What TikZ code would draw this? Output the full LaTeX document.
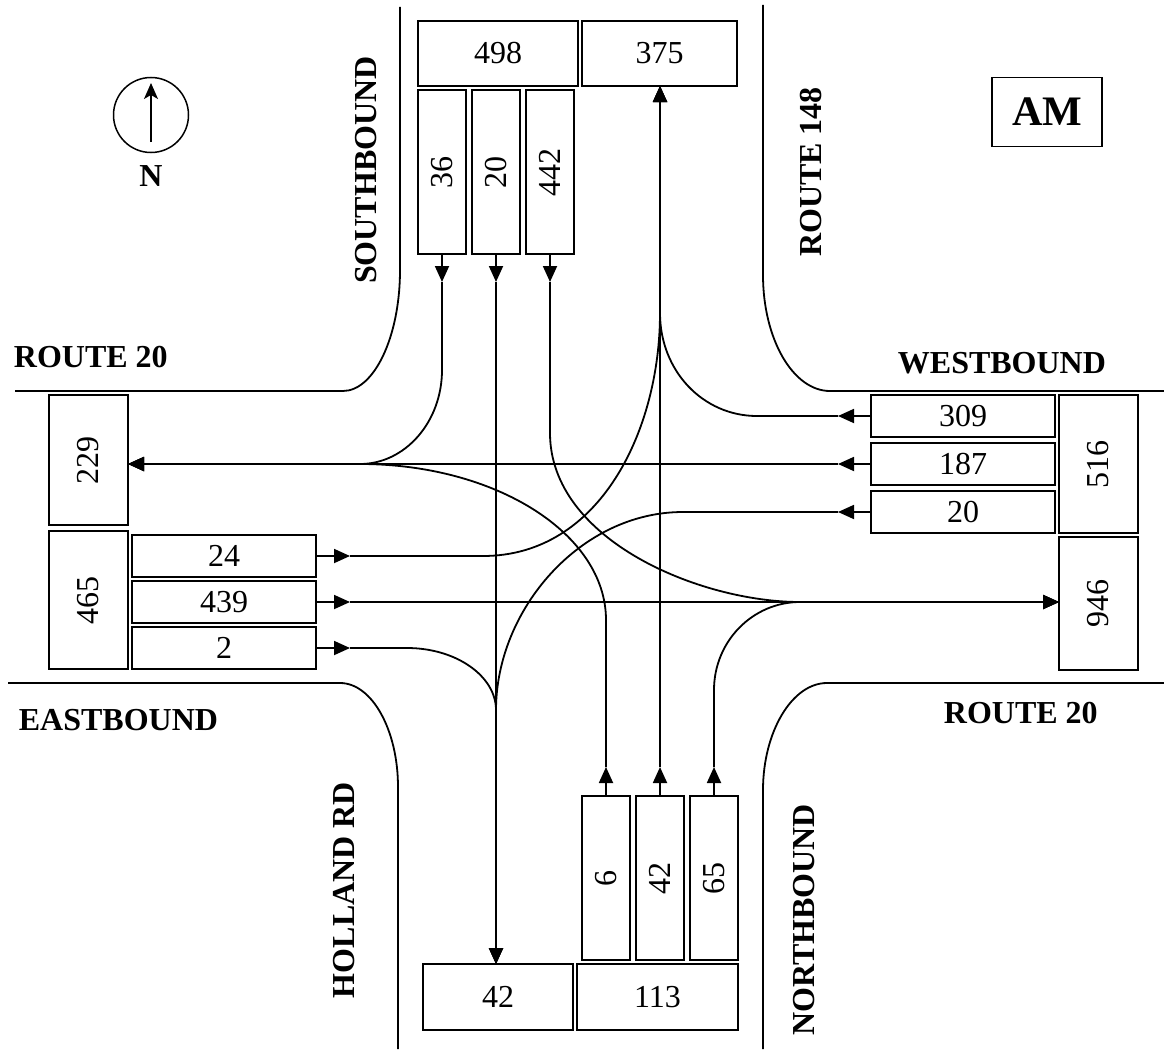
\documentclass[tikz,border=0pt]{standalone}
\usepackage{fontspec}
\setmainfont{Liberation Serif}
\usepackage{tikz}
\usetikzlibrary{positioning,arrows.meta}

\newcommand{\numsize}{\fontsize{32}{38}\selectfont}
\newcommand{\vnum}[1]{\rotatebox{90}{#1}}

\begin{document}
\begin{tikzpicture}[
		x=1pt, y=-1pt,
		line width=1.8pt,
		box/.style={
			draw,
			fill=white,
			inner sep=0pt,
			outer sep=0pt,
			font=\numsize
		},
		hlane/.style={box, minimum width=184pt, minimum height=42pt},
		vlane/.style={box, minimum width=48pt, minimum height=164pt},
		tall/.style={box, minimum width=79pt},
		wide/.style={box, minimum height=65pt},
		roadname/.style={font=\numsize\bfseries, inner sep=0pt},
		curb/.style={line width=1.8pt},
		arrow/.style={-{Triangle[length=16pt,width=14pt]}, line width=1.8pt}
		]
		
		\useasboundingbox (0,0) rectangle (1164,1049);
		
		% Curbs
		\draw[curb] (400,7) -- (400,270) .. controls (400,337) and (374,391) .. (343,391) -- (15,391);
		\draw[curb] (763,5) -- (763,275) .. controls (763,339) and (793,391) .. (830,391) -- (1164,391);
		\draw[curb] (8,683) -- (340,683) .. controls (372,683) and (398,730) .. (398,787) -- (398,1049);
		\draw[curb] (763,1049) -- (763,790) .. controls (763,732) and (792,683) .. (827,683) -- (1164,683);
		
		% Southbound approach
		\node[wide, minimum width=160pt, anchor=north west] (sbtotal) at (418,21) {498};
		\node[wide, minimum width=155pt, right=4pt of sbtotal] (nbexit) {375};
		\node[vlane, below=4pt of sbtotal.south west, anchor=north west] (sbl36) {\vnum{36}};
		\node[vlane, right=6pt of sbl36] (sbt20) {\vnum{20}};
		\node[vlane, right=6pt of sbt20] (sbr442) {\vnum{442}};
		
		% Eastbound approach
		\node[tall, minimum height=130pt, anchor=north west] (wbexit) at (49,395) {\vnum{229}};
		\node[tall, minimum height=138pt, below=6pt of wbexit] (ebtotal) {\vnum{465}};
		\node[hlane, anchor=north west] (ebl24) at ([xshift=4pt,yshift=-4pt]ebtotal.north east) {24};
		\node[hlane, below=4pt of ebl24] (ebt439) {439};
		\node[hlane, below=4pt of ebt439] (ebr2) {2};
		
		% Westbound approach
		\node[hlane, anchor=north west] (wbr309) at (871,395) {309};
		\node[hlane, below=6pt of wbr309] (wbt187) {187};
		\node[hlane, below=6pt of wbt187] (wbl20) {20};
		\node[tall, minimum height=138pt, right=4pt of wbr309.north east, anchor=north west] (wbtotal) {\vnum{516}};
		\node[tall, minimum height=133pt, below=4pt of wbtotal] (ebexit) {\vnum{946}};
		
		% Northbound approach
		\node[vlane, anchor=north west] (nbl6) at (582,796) {\vnum{6}};
		\node[vlane, right=6pt of nbl6] (nbt42) {\vnum{42}};
		\node[vlane, right=6pt of nbt42] (nbr65) {\vnum{65}};
		\node[wide, minimum width=150pt, minimum height=66pt, anchor=north west] (sbexit) at (423,964) {42};
		\node[wide, minimum width=161pt, minimum height=66pt, right=4pt of sbexit] (nbtotal) {113};
		
		% Road names
		\node[roadname, anchor=base west] (rt20w) at (13,367) {ROUTE 20};
		\node[roadname, anchor=base west] (wblabel) at (897,373) {WESTBOUND};
		\node[roadname, anchor=base west] (eblabel) at (18,730) {EASTBOUND};
		\node[roadname, anchor=base west] (rt20e) at (943,723) {ROUTE 20};
		\node[roadname, rotate=90] (sblabel) at (366,170) {SOUTHBOUND};
		\node[roadname, rotate=90] (rt148) at (811,172) {ROUTE 148};
		\node[roadname, rotate=90] (hollandrd) at (344,890) {HOLLAND RD};
		\node[roadname, rotate=90] (nblabel) at (804,920) {NORTHBOUND};
		
		% Period and north sign
		\node[draw, font=\fontsize{42}{48}\selectfont\bfseries, inner sep=0pt,
			minimum width=110pt, minimum height=69pt] (period) at (1047,112) {AM};
		\node[circle, draw, line width=1.5pt, minimum size=75pt, inner sep=0pt] (compass) at (151,115) {};
		\draw[-{Stealth[length=16pt,width=14pt,inset=4pt]}, line width=1.5pt]
			([yshift=-27pt]compass.center) -- ([yshift=32pt]compass.center);
		\node[roadname, anchor=base] (northlabel) at (151,186) {N};
		
		% Lane arrows
		\foreach \lane in {sbl36,sbt20,sbr442}
			\draw[arrow] (\lane.south) -- ++(0,28) coordinate (\lane-tip);
		\foreach \lane in {nbl6,nbt42,nbr65}
			\draw[arrow] (\lane.north) -- ++(0,-29) coordinate (\lane-tip);
		\foreach \lane in {ebl24,ebt439,ebr2}
			\draw[arrow] (\lane.east) -- ++(34,0) coordinate (\lane-tip);
		\foreach \lane in {wbr309,wbt187,wbl20}
			\draw[arrow] (\lane.west) -- ++(-33,0) coordinate (\lane-tip);
		
		% Southbound movements
		\draw[arrow] (sbl36-tip) -- (442,370) .. controls (442,422) and (405,464) .. (360,464) -- (wbexit.east |- wbt187-tip);
		\draw[arrow] (sbt20-tip) -- (sbt20-tip |- sbexit.north);
		\draw[arrow] (sbr442-tip) -- (550,433) .. controls (550,540) and (700,602) .. (800,602) -- (ebexit.west |- ebt439-tip);
		
		% Westbound movements
		\draw[arrow] (wbr309-tip) -- (757,416) .. controls (703,416) and (660,371) .. (660,313) -- (nbt42-tip |- nbexit.south);
		\draw[arrow] (wbt187-tip) -- (wbexit.east |- wbt187-tip);
		\draw[arrow] (wbl20-tip) -- (683,512) .. controls (580,512) and (496,610) .. (496,710) -- (sbt20-tip |- sbexit.north);
		
		% Eastbound movements
		\draw[arrow] (ebl24-tip) -- (483,556) .. controls (600,556) and (660,430) .. (660,313) -- (nbt42-tip |- nbexit.south);
		\draw[arrow] (ebt439-tip) -- (ebexit.west |- ebt439-tip);
		\draw[arrow] (ebr2-tip) -- (407,648) .. controls (456,648) and (496,676) .. (496,710) -- (sbt20-tip |- sbexit.north);
		
		% Northbound movements
		\draw[arrow] (nbl6-tip) -- (606,620) .. controls (606,534) and (496,464) .. (360,464) -- (wbexit.east |- wbt187-tip);
		\draw[arrow] (nbt42-tip) -- (nbt42-tip |- nbexit.south);
		\draw[arrow] (nbr65-tip) -- (714,690) .. controls (714,641) and (753,602) .. (800,602) -- (ebexit.west |- ebt439-tip);
		
	\end{tikzpicture}
\end{document}
